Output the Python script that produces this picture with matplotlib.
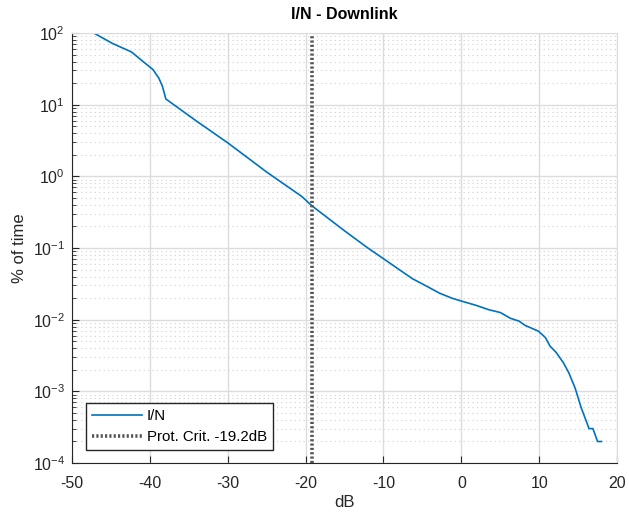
import matplotlib
matplotlib.use("Agg")
import matplotlib.pyplot as plt
import numpy as np

plt.rcParams['font.family'] = ['Liberation Sans', 'DejaVu Sans']

# I/N curve (dB, log10 of % of time)
x_db = [-47.95, -47.2, -44.9, -42.35, -40.85, -39.6, -38.85, -38.4, -37.95,
        -34.0, -30.0, -25.0, -20.5, -19.2, -15.0, -12.0, -10.0, -8.0, -6.25,
        -4.5, -2.8, -1.2, 0.0, 1.9, 3.5, 5.0, 6.3, 7.4, 8.2, 9.9, 10.8,
        11.4, 12.2, 13.1, 13.8, 14.6, 15.4, 16.2, 16.4, 16.9, 17.5, 18.0]
log_pct = [2.0, 2.0, 1.86, 1.735, 1.60, 1.49, 1.37, 1.26, 1.08,
           0.77, 0.468, 0.06, -0.28, -0.41, -0.76, -1.0, -1.149, -1.30, -1.43,
           -1.53, -1.63, -1.70, -1.74, -1.80, -1.86, -1.90, -1.98, -2.02, -2.08,
           -2.16, -2.25, -2.37, -2.46, -2.60, -2.74, -2.95, -3.23, -3.46, -3.52,
           -3.52, -3.70, -3.70]
pct_time = [10 ** v for v in log_pct]

prot_crit = -19.2
labels = ['I/N', 'Prot. Crit. -19.2dB']
x_ticks = [-50, -40, -30, -20, -10, 0, 10, 20]

fig = plt.figure(figsize=(6.29, 5.2), dpi=100)
ax = fig.add_axes([0.1145, 0.1096, 0.8665, 0.8269])

ax.semilogy(x_db, pct_time, color='#0072BD', lw=1.2, label=labels[0])
ax.axvline(prot_crit, color='#555555', lw=2.6, ls=(0, (0.6, 0.6)), label=labels[1])

ax.set_xlim(-50, 20)
ax.set_ylim(1e-4, 1e2)
ax.set_xticks(x_ticks)
ax.set_xticklabels([str(t) for t in x_ticks])

ax.grid(True, which='major', color='#dcdcdc', lw=1.0, ls='-')
ax.yaxis.grid(True, which='minor', color='#d0d0d0', lw=0.8, ls=(0, (1, 3)))
ax.set_axisbelow(True)

for s in ['top', 'right']:
    ax.spines[s].set_color('#dcdcdc')
for s in ['left', 'bottom']:
    ax.spines[s].set_color('#262626')
ax.tick_params(which='both', direction='in', colors='#262626', labelsize=11.5,
               top=False, right=False)
ax.tick_params(which='major', length=5)
ax.tick_params(which='minor', length=3)
ax.tick_params(axis='x', pad=9)
ax.tick_params(axis='y', pad=5)

ax.set_title('I/N - Downlink', fontsize=11.5, fontweight='bold', pad=10)
ax.set_xlabel('dB', fontsize=12, color='#262626', labelpad=3)
ax.set_ylabel('% of time', fontsize=12, color='#262626', labelpad=4)

leg = ax.legend(loc='lower left', fontsize=10.8, fancybox=False, framealpha=1,
                edgecolor='#262626', borderpad=0.4, handlelength=3.3,
                handletextpad=0.35, labelspacing=0.5,
                bbox_to_anchor=(0.012, 0.012))
leg.get_frame().set_linewidth(1.0)

fig.savefig('out.png', dpi=100)
